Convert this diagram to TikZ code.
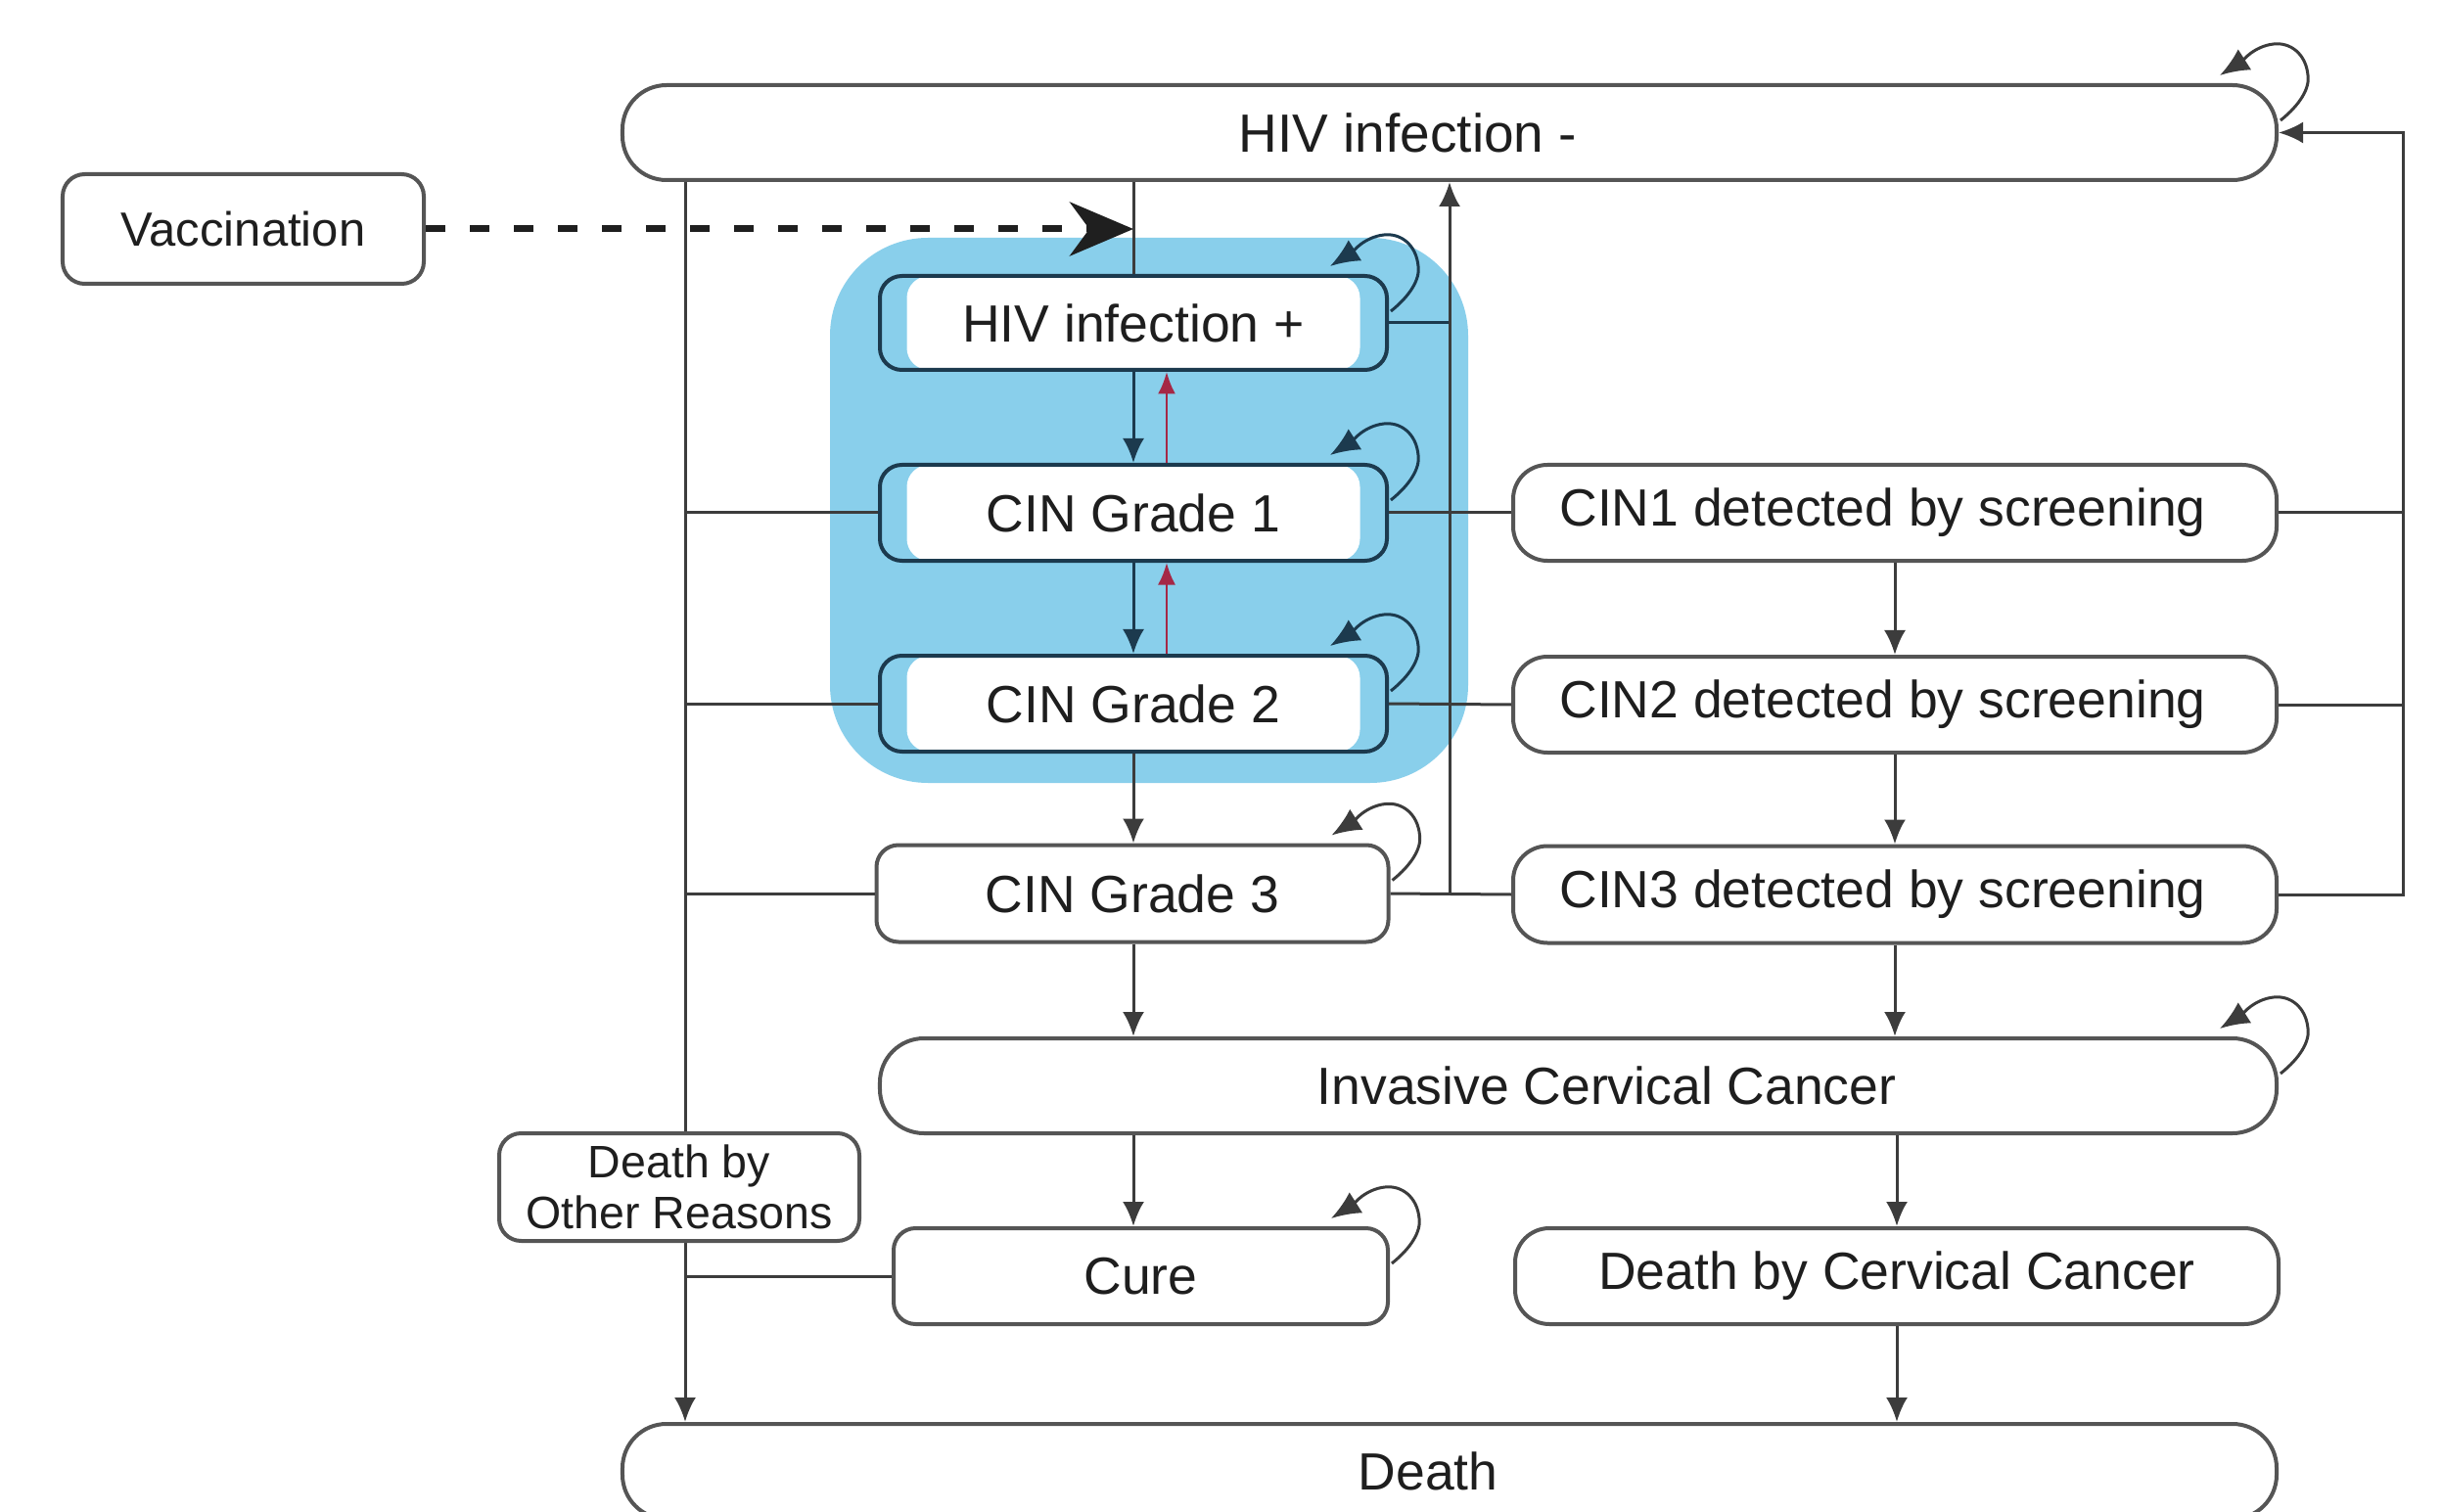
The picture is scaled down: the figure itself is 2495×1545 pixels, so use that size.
\documentclass[tikz,border=0pt]{standalone}
\usepackage{fontspec}
\setmainfont{Liberation Sans}
\usetikzlibrary{arrows.meta,calc}
\definecolor{skyb}{RGB}{137,207,235}
\definecolor{lineg}{RGB}{60,60,60}
\definecolor{boxg}{RGB}{85,85,85}
\definecolor{navyb}{RGB}{28,58,78}
\definecolor{redar}{RGB}{165,40,70}
\definecolor{txt}{RGB}{30,30,30}
\tikzset{
  base/.style={draw=boxg, line width=0.8pt, fill=white, inner sep=0pt, text=txt,
    font=\fontsize{10.7}{12.8}\selectfont},
  pill/.style={base, rounded corners=9pt},
  detbox/.style={base, rounded corners=7pt},
  stbox/.style={base, rounded corners=4.5pt},
  bluebox/.style={base, draw=navyb, fill=skyb, rounded corners=4.5pt,
    path picture={\fill[white] ([xshift=5.5pt]path picture bounding box.north west)
      rectangle ([xshift=-5.5pt]path picture bounding box.south east);}},
  conn/.style={draw=lineg, line width=0.6pt},
  connb/.style={draw=navyb, line width=0.6pt},
  arr/.style={conn, -{Latex[length=5pt,width=4.4pt]}},
  arrb/.style={connb, -{Latex[length=5pt,width=4.4pt]}},
  redarr/.style={draw=redar, line width=0.5pt, -{Latex[length=4.5pt,width=3.6pt]}},
  dasharr/.style={draw=black!88, line width=1.4pt, dash pattern=on 4pt off 5pt,
    -{Stealth[length=13pt,width=11pt,inset=4pt]}},
  looparr/.style={line width=0.6pt, -{Latex[length=6pt,width=5pt]}}
}
\newcommand\selfloop[2][lineg]{%
  \draw[looparr, draw=#1, fill=none]
    ($(#2.north east)+(2,38)$) .. controls ($(#2.north east)+(22,22)$) and ($(#2.north east)+(32,5)$) ..
    ($(#2.north east)+(30,-8)$) .. controls ($(#2.north east)+(28,-30)$) and ($(#2.north east)+(12,-42)$) ..
    ($(#2.north east)+(-5,-40)$) .. controls ($(#2.north east)+(-25,-38)$) and ($(#2.north east)+(-38,-22)$) ..
    ($(#2.north east)+(-60,-8)$);}
\begin{document}
\begin{tikzpicture}[x=0.2pt, y=-0.2pt]
\useasboundingbox (0,0) rectangle (2495,1545);
\fill[white] (0,0) rectangle (2495,1545);
% blue highlight region
\fill[skyb, rounded corners=20pt] (848,243) rectangle (1500,800);
% helper x positions
\coordinate (Lx) at (700,0);
\coordinate (Rx) at (1192,0);
\coordinate (Cx) at (1481,0);
\coordinate (Ex) at (2455,0);
% nodes
\node[pill, minimum width=338pt, minimum height=19.4pt, font=\fontsize{11}{13}\selectfont] (hivneg) at (1481,135.5) {HIV infection -\hspace*{17pt}};
\node[stbox, minimum width=73.8pt, minimum height=22.4pt, font=\fontsize{9.8}{12}\selectfont] (vacc) at (248.5,234) {Vaccination};
\node[bluebox, minimum width=103.6pt, minimum height=19.2pt] (hivpos) at (1158,330) {HIV infection +};
\node[bluebox, minimum width=103.6pt, minimum height=19.6pt] (cin1) at (1158,524) {CIN Grade 1};
\node[bluebox, minimum width=103.6pt, minimum height=19.6pt] (cin2) at (1158,719) {CIN Grade 2};
\node[stbox, minimum width=104.6pt, minimum height=19.8pt] (cin3) at (1157,913) {CIN Grade 3};
\node[detbox, minimum width=156pt, minimum height=19.6pt] (cin1det) at (1936,524) {CIN1 detected by screening\hspace*{5pt}};
\node[detbox, minimum width=156pt, minimum height=19.6pt] (cin2det) at (1936,720) {CIN2 detected by screening\hspace*{5pt}};
\node[detbox, minimum width=156pt, minimum height=19.8pt] (cin3det) at (1936,914) {CIN3 detected by screening\hspace*{5pt}};
\node[pill, minimum width=285.4pt, minimum height=19.4pt] (invasive) at (1612.5,1109.5) {\hspace*{11.6pt}Invasive Cervical Cancer};
\node[stbox, minimum width=101pt, minimum height=19.6pt] (cure) at (1165.5,1304) {Cure};
\node[detbox, minimum width=156pt, minimum height=19.6pt] (deathcc) at (1938,1304) {Death by Cervical Cancer};
\node[pill, minimum width=338pt, minimum height=19.4pt] (death) at (1481,1503.5) {Death\hspace*{8.8pt}};
% left column to Death
\draw[arr] (hivneg.south -| Lx) -- (death.north -| Lx);
\draw[conn] (cin1.west) -- (cin1.west -| Lx);
\draw[conn] (cin2.west) -- (cin2.west -| Lx);
\draw[conn] (cin3.west) -- (cin3.west -| Lx);
\draw[conn] (cure.west) -- (cure.west -| Lx);
% main column
\draw[conn] (hivneg.south -| hivpos.north) -- (hivpos.north);
\draw[arrb] (hivpos.south) -- (cin1.north);
\draw[arrb] (cin1.south) -- (cin2.north);
\draw[arr] (cin2.south) -- (cin2.south |- cin3.north);
\draw[arr] (cin2.south |- cin3.south) -- (cin2.south |- invasive.north);
\draw[arr] (cin2.south |- invasive.south) -- (cin2.south |- cure.north);
% regression arrows
\draw[redarr] (cin1.north -| Rx) -- (hivpos.south -| Rx);
\draw[redarr] (cin2.north -| Rx) -- (cin1.south -| Rx);
% right of CIN column
\draw[connb] (hivpos.east) -- (hivpos.east -| Cx);
\draw[conn] (cin1.east) -- (cin1det.west);
\draw[conn] (cin2.east) -- (cin2det.west);
\draw[conn] (cin3.east) -- (cin3det.west);
\draw[arr] (cin3.east -| Cx) -- (hivneg.south -| Cx);
% detected column
\draw[arr] (cin1det.south) -- (cin2det.north);
\draw[arr] (cin2det.south) -- (cin3det.north);
\draw[arr] (cin3det.south) -- (cin3det.south |- invasive.north);
\draw[arr] (invasive.south -| deathcc.north) -- (deathcc.north);
\draw[arr] (deathcc.south) -- (deathcc.south |- death.north);
% far right return line
\draw[conn] (cin1det.east) -- (cin1det.east -| Ex);
\draw[conn] (cin2det.east) -- (cin2det.east -| Ex);
\draw[arr] (cin3det.east) -- (cin3det.east -| Ex) -- (Ex |- hivneg.east) -- (hivneg.east);
% vaccination
\draw[dasharr] (vacc.east) -- (vacc.east -| hivpos.north);
% self loops
\selfloop{hivneg}
\selfloop[navyb]{hivpos}
\selfloop[navyb]{cin1}
\selfloop[navyb]{cin2}
\selfloop{cin3}
\selfloop{invasive}
\selfloop{cure}
% death by other reasons label box
\node[stbox, minimum width=73.6pt, minimum height=22pt, align=center, font=\fontsize{9.3}{10.5}\selectfont] (dother) at (694,1213) {Death by\\Other Reasons};
\end{tikzpicture}
\end{document}
